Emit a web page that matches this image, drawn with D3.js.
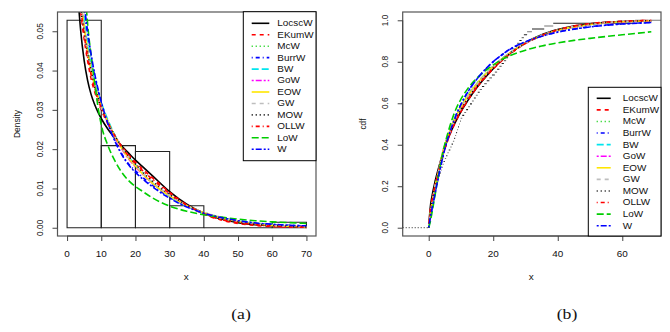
<!DOCTYPE html>
<html>
<head>
<meta charset="utf-8">
<script src="https://cdn.jsdelivr.net/npm/d3@7"></script>
<style>
  body { margin: 0; background: #ffffff; }
  text { font-family: "Liberation Sans", Arial, sans-serif; fill: #111; }
</style>
</head>
<body>
<div id="canvas"></div>
<script>
"use strict"

/* ---------- data ---------- */

/* legend names, in legend order */
let modelNames = ["LocscW", "EKumW", "McW", "BurrW", "BW", "GoW", "EOW", "GW", "MOW", "OLLW", "LoW", "W"];

/* histogram (panel a) */
let binEdges = [0, 10, 20, 30, 40, 50, 60, 70];
let binDensity = [0.0528, 0.0209, 0.0194, 0.0056, 0, 0, 0.0014];

/* fitted densities (panel a) */
let densX = [1, 2, 3, 4, 5, 6, 7, 8, 9, 10, 12, 14, 16, 18, 20, 22, 25, 30, 35, 40, 45, 50, 55, 60, 65, 70];
let densLocscW = [0.14, 0.085, 0.062, 0.050, 0.0425, 0.0375, 0.034, 0.0315, 0.0295, 0.0278, 0.0250, 0.0228, 0.0208, 0.0190, 0.0172, 0.0156, 0.0132, 0.0092, 0.0060, 0.0037, 0.0022, 0.0013, 0.0008, 0.0005, 0.0003, 0.0002];
let densEKumW = [0.13, 0.080, 0.064, 0.055, 0.048, 0.0425, 0.038, 0.0348, 0.0322, 0.0300, 0.0263, 0.0233, 0.0207, 0.0186, 0.0167, 0.0150, 0.0127, 0.0090, 0.0058, 0.0035, 0.0020, 0.0011, 0.0006, 0.0003, 0.0002, 0.0001];
let densMcW = [0.12, 0.086, 0.069, 0.059, 0.052, 0.0455, 0.0405, 0.0368, 0.0337, 0.0312, 0.0270, 0.0233, 0.0203, 0.0178, 0.0158, 0.0139, 0.0114, 0.0081, 0.0057, 0.0039, 0.0027, 0.0018, 0.0012, 0.0008, 0.0006, 0.0004];
let densBurrW = [0.15, 0.100, 0.078, 0.065, 0.056, 0.049, 0.0435, 0.039, 0.035, 0.0318, 0.0265, 0.0222, 0.0188, 0.0162, 0.0145, 0.0129, 0.0108, 0.0078, 0.0055, 0.0038, 0.0026, 0.0018, 0.0012, 0.0008, 0.0006, 0.0005];
let densBW = [0.12, 0.088, 0.070, 0.060, 0.053, 0.0465, 0.0412, 0.0372, 0.0342, 0.0318, 0.0273, 0.0235, 0.0204, 0.0180, 0.0160, 0.0140, 0.0114, 0.0080, 0.0055, 0.0037, 0.0025, 0.0017, 0.0011, 0.0008, 0.0005, 0.0003];
let densGoW = [0.12, 0.085, 0.068, 0.058, 0.051, 0.045, 0.0402, 0.0363, 0.0333, 0.0308, 0.0265, 0.0230, 0.0200, 0.0175, 0.0155, 0.0137, 0.0113, 0.0082, 0.0057, 0.0038, 0.0026, 0.0017, 0.0011, 0.0007, 0.0005, 0.0003];
let densEOW = [0.12, 0.085, 0.068, 0.058, 0.051, 0.045, 0.040, 0.0365, 0.0335, 0.0310, 0.0268, 0.0232, 0.0202, 0.0177, 0.0157, 0.0138, 0.0113, 0.0081, 0.0057, 0.0038, 0.0025, 0.0016, 0.0010, 0.0006, 0.0004, 0.0002];
let densGW = [0.12, 0.083, 0.067, 0.057, 0.0505, 0.0447, 0.040, 0.0362, 0.0332, 0.0305, 0.0265, 0.0232, 0.0204, 0.0180, 0.0160, 0.0141, 0.0116, 0.0083, 0.0057, 0.0037, 0.0024, 0.0016, 0.0010, 0.0006, 0.0004, 0.0002];
let densMOW = [0.12, 0.082, 0.066, 0.056, 0.050, 0.0445, 0.040, 0.0362, 0.0332, 0.0305, 0.0266, 0.0234, 0.0206, 0.0182, 0.0162, 0.0143, 0.0118, 0.0085, 0.0058, 0.0037, 0.0023, 0.0015, 0.0009, 0.0006, 0.0004, 0.0002];
let densOLLW = [0.13, 0.082, 0.065, 0.056, 0.049, 0.0435, 0.039, 0.0355, 0.0328, 0.0305, 0.0266, 0.0234, 0.0206, 0.0183, 0.0163, 0.0146, 0.0123, 0.0087, 0.0058, 0.0036, 0.0021, 0.0013, 0.0008, 0.0004, 0.0002, 0.00015];
let densLoW = [0.30, 0.20, 0.13, 0.09, 0.065, 0.052, 0.044, 0.0375, 0.031, 0.0262, 0.0208, 0.0170, 0.0141, 0.0120, 0.0105, 0.0093, 0.0076, 0.0055, 0.0042, 0.0033, 0.0027, 0.0022, 0.0018, 0.0015, 0.0013, 0.0011];
let densW = [0.15, 0.100, 0.079, 0.066, 0.057, 0.050, 0.0443, 0.0395, 0.0355, 0.0320, 0.0264, 0.0220, 0.0186, 0.0160, 0.0141, 0.0125, 0.0104, 0.0075, 0.0053, 0.0037, 0.0026, 0.0018, 0.0012, 0.0009, 0.0006, 0.0005];

/* fitted cdfs (panel b) */
let cdfX = [0, 0.5, 1, 2, 3, 4.5, 6, 8, 10, 12, 15, 18, 20, 22, 25, 30, 35, 40, 45, 50, 55, 60, 65, 69];
let cdfLocscW = [0, 0.10, 0.15, 0.225, 0.285, 0.365, 0.43, 0.50, 0.56, 0.61, 0.677, 0.733, 0.767, 0.798, 0.838, 0.892, 0.930, 0.955, 0.972, 0.983, 0.990, 0.994, 0.997, 0.998];
let cdfEKumW = [0, 0.08, 0.125, 0.20, 0.26, 0.355, 0.425, 0.50, 0.56, 0.612, 0.677, 0.733, 0.765, 0.795, 0.835, 0.888, 0.926, 0.953, 0.971, 0.983, 0.990, 0.995, 0.998, 0.999];
let cdfMcW = [0, 0.07, 0.115, 0.20, 0.27, 0.375, 0.445, 0.525, 0.585, 0.635, 0.697, 0.748, 0.778, 0.805, 0.840, 0.890, 0.925, 0.950, 0.966, 0.978, 0.986, 0.991, 0.994, 0.996];
let cdfBurrW = [0, 0.05, 0.09, 0.17, 0.245, 0.35, 0.435, 0.525, 0.595, 0.652, 0.718, 0.770, 0.800, 0.825, 0.858, 0.895, 0.923, 0.944, 0.958, 0.969, 0.977, 0.983, 0.987, 0.990];
let cdfBW = [0, 0.07, 0.115, 0.195, 0.265, 0.37, 0.442, 0.522, 0.583, 0.634, 0.697, 0.749, 0.779, 0.807, 0.842, 0.892, 0.927, 0.951, 0.967, 0.979, 0.987, 0.992, 0.995, 0.997];
let cdfGoW = [0, 0.07, 0.12, 0.20, 0.27, 0.372, 0.442, 0.520, 0.580, 0.630, 0.694, 0.746, 0.776, 0.804, 0.840, 0.890, 0.925, 0.950, 0.967, 0.979, 0.987, 0.992, 0.995, 0.997];
let cdfEOW = [0, 0.07, 0.115, 0.20, 0.268, 0.372, 0.442, 0.522, 0.582, 0.632, 0.695, 0.747, 0.777, 0.805, 0.841, 0.891, 0.927, 0.952, 0.968, 0.980, 0.988, 0.993, 0.996, 0.998];
let cdfGW = [0, 0.075, 0.12, 0.20, 0.265, 0.365, 0.435, 0.515, 0.575, 0.626, 0.690, 0.744, 0.775, 0.803, 0.840, 0.891, 0.928, 0.953, 0.970, 0.981, 0.989, 0.994, 0.997, 0.998];
let cdfMOW = [0, 0.08, 0.125, 0.205, 0.27, 0.365, 0.432, 0.51, 0.57, 0.62, 0.685, 0.740, 0.772, 0.801, 0.838, 0.890, 0.928, 0.954, 0.971, 0.982, 0.990, 0.994, 0.997, 0.998];
let cdfOLLW = [0, 0.085, 0.13, 0.205, 0.265, 0.358, 0.427, 0.503, 0.563, 0.615, 0.680, 0.736, 0.768, 0.798, 0.837, 0.889, 0.927, 0.954, 0.972, 0.984, 0.991, 0.995, 0.998, 0.999];
let cdfLoW = [0, 0.03, 0.07, 0.16, 0.25, 0.37, 0.46, 0.555, 0.62, 0.668, 0.722, 0.762, 0.785, 0.805, 0.828, 0.856, 0.876, 0.891, 0.903, 0.913, 0.922, 0.930, 0.938, 0.945];
let cdfW = [0, 0.05, 0.09, 0.168, 0.243, 0.348, 0.433, 0.523, 0.594, 0.651, 0.718, 0.771, 0.801, 0.826, 0.859, 0.896, 0.923, 0.943, 0.957, 0.968, 0.976, 0.982, 0.986, 0.989];

/* sorted sample behind the empirical cdf steps (panel b) */
let sampleX = [0.1, 0.2, 0.3, 0.4, 0.5, 0.7, 0.8, 1.0, 1.2, 1.4, 1.6, 1.8, 2.0, 2.3, 2.5, 2.8, 3.0, 3.2, 3.5, 3.8,
  4.0, 4.3, 4.6, 5.0, 5.4, 5.8, 6.2, 6.7, 7.1, 7.5, 7.9, 8.2, 8.5, 8.8, 9.1, 9.4, 9.7, 9.9,
  10.4, 11.0, 11.6, 12.2, 12.8, 13.4, 14.0, 14.6, 15.2, 15.8, 16.5, 17.2, 18.0, 18.8, 19.6,
  20.5, 21.2, 21.9, 22.6, 23.3, 24.0, 24.6, 25.3, 26.0, 26.7, 27.4, 28.1, 28.8, 29.5,
  30.5, 32.0, 35.8, 38.6, 64.0];

/* ticks */
let xTicksA = [0, 10, 20, 30, 40, 50, 60, 70];
let yTicksA = [0, 0.01, 0.02, 0.03, 0.04, 0.05];
let xTicksB = [0, 20, 40, 60];
let yTicksB = [0, 0.2, 0.4, 0.6, 0.8, 1.0];

/* line styles, R palette 1..8 cycling, lty 1..6 cycling */
let lineColors = ["#000000", "#ff0000", "#00cd00", "#0000ff", "#00e5ee", "#ff00ff", "#ffe600", "#bebebe", "#000000", "#ff0000", "#00cd00", "#0000ff"];
let lineDashes = [null, "4,4", "1,3", "1,3,4,3", "7,3", "2,2,6,2", null, "4,4", "1,3", "1,3,4,3", "7,3", "2,2,6,2"];

let densSeries = [densLocscW, densEKumW, densMcW, densBurrW, densBW, densGoW, densEOW, densGW, densMOW, densOLLW, densLoW, densW];
let cdfSeries = [cdfLocscW, cdfEKumW, cdfMcW, cdfBurrW, cdfBW, cdfGoW, cdfEOW, cdfGW, cdfMOW, cdfOLLW, cdfLoW, cdfW];

/* ---------- drawing ---------- */

let drawing = d3.select("#canvas")
    .append("svg")
    .attr("width", 670)
    .attr("height", 332);

let stretch = 1.18;   /* the source figure is a little wider than tall */
let fontSize = 8.4;

/* put text with the horizontal stretch of the source picture */
function stretchedText(parent, x, y, str, rotate, size, family) {
    return parent.append("text")
        .attr("transform", "translate(" + x + "," + y + ") scale(" + stretch + ",1)" + (rotate ? " rotate(-90)" : ""))
        .attr("text-anchor", "middle")
        .attr("dy", "0.35em")
        .style("font-size", (size || fontSize) + "px")
        .style("font-family", family || null)
        .text(str);
}

function styleAxis(g, rotateLabels) {
    g.select(".domain").attr("stroke", "#444");
    g.selectAll(".tick line").attr("stroke", "#444");
    g.selectAll(".tick text").remove();
}

function drawPanel(opts) {
    let xs = opts.x, ys = opts.y;
    let panel = drawing.append("g");

    let clipId = "clip" + opts.id;
    panel.append("clipPath").attr("id", clipId)
        .append("rect")
        .attr("x", xs.range()[0]).attr("y", ys.range()[1])
        .attr("width", xs.range()[1] - xs.range()[0])
        .attr("height", ys.range()[0] - ys.range()[1]);

    let inner = panel.append("g").attr("clip-path", "url(#" + clipId + ")");
    opts.under(inner);

    let line = d3.line()
        .x(d => xs(d[0]))
        .y(d => ys(d[1]))
        .curve(d3.curveMonotoneX);

    /* fitted curves */
    opts.series.forEach(function (vals, i) {
        inner.append("path")
            .datum(opts.grid.map((gx, j) => [gx, vals[j]]))
            .attr("d", line)
            .attr("fill", "none")
            .attr("stroke", lineColors[i])
            .attr("stroke-width", 1.6)
            .attr("stroke-dasharray", lineDashes[i]);
    });

    /* box */
    panel.append("rect")
        .attr("x", xs.range()[0]).attr("y", ys.range()[1])
        .attr("width", xs.range()[1] - xs.range()[0])
        .attr("height", ys.range()[0] - ys.range()[1])
        .attr("fill", "none")
        .attr("stroke", "#555")
        .attr("stroke-width", 1.2);

    /* axes */
    let xAxis = panel.append("g")
        .attr("transform", "translate(0," + ys.range()[0] + ")")
        .call(d3.axisBottom(xs).tickValues(opts.xTicks).tickSize(5).tickSizeOuter(0));
    styleAxis(xAxis);
    xAxis.select(".domain").attr("d", "M" + xs(opts.xTicks[0]) + ",0H" + xs(opts.xTicks[opts.xTicks.length - 1]));
    opts.xTicks.forEach(t => stretchedText(panel, xs(t), ys.range()[0] + 18, d3.format(opts.xFmt)(t)));

    let yAxis = panel.append("g")
        .attr("transform", "translate(" + xs.range()[0] + ",0)")
        .call(d3.axisLeft(ys).tickValues(opts.yTicks).tickSize(5).tickSizeOuter(0));
    styleAxis(yAxis);
    yAxis.select(".domain").attr("d", "M0," + ys(opts.yTicks[0]) + "V" + ys(opts.yTicks[opts.yTicks.length - 1]));
    opts.yTicks.forEach(t => stretchedText(panel, xs.range()[0] - 18, ys(t), d3.format(opts.yFmt)(t), true));

    /* axis titles */
    stretchedText(panel, (xs.range()[0] + xs.range()[1]) / 2 - 0.5, 277, "x");
    stretchedText(panel, xs.range()[0] - 40.6, (ys.range()[0] + ys.range()[1]) / 2, opts.yTitle, true);

    /* legend */
    let lg = opts.legend;
    panel.append("rect")
        .attr("x", lg.x).attr("y", lg.y)
        .attr("width", lg.w).attr("height", lg.h)
        .attr("fill", "#fff")
        .attr("stroke", "#000")
        .attr("stroke-width", 1);
    modelNames.forEach(function (name, i) {
        let yy = lg.y + lg.first + i * lg.step;
        panel.append("line")
            .attr("x1", lg.x + lg.l1).attr("x2", lg.x + lg.l2)
            .attr("y1", yy).attr("y2", yy)
            .attr("stroke", lineColors[i])
            .attr("stroke-width", 1.6)
            .attr("stroke-dasharray", lineDashes[i]);
        panel.append("text")
            .attr("transform", "translate(" + (lg.x + lg.tx) + "," + yy + ") scale(" + stretch + ",1)")
            .attr("dy", "0.35em")
            .style("font-size", fontSize + "px")
            .text(name);
    });

    stretchedText(panel, opts.captionX, 314, opts.caption, false, 15, "'Liberation Serif', 'Times New Roman', serif");
}

/* panel (a): histogram with fitted densities */
let xA = d3.scaleLinear().domain([-2.8, 72.8]).range([57.5, 316]);
let yA = d3.scaleLinear().domain([-0.0021, 0.0549]).range([236, 12]);

drawPanel({
    id: "A", x: xA, y: yA,
    grid: densX, series: densSeries,
    xTicks: xTicksA, yTicks: yTicksA, xFmt: "d", yFmt: ".2f",
    yTitle: "Density",
    legend: { x: 243.3, y: 11.7, w: 72.7, h: 149, first: 11.6, step: 11.45, l1: 8.4, l2: 26, tx: 34 },
    caption: "(a)", captionX: 241,
    under: function (g) {
        binDensity.forEach(function (d, i) {
            let x0 = xA(binEdges[i]), x1 = xA(binEdges[i + 1]);
            g.append("path")
                .attr("d", "M" + x0 + "," + yA(0) + "V" + yA(d) + "H" + x1 + "V" + yA(0) + "Z")
                .attr("fill", "none")
                .attr("stroke", "#222")
                .attr("stroke-width", 1.1);
        });
    }
});

/* panel (b): empirical cdf with fitted cdfs */
let xB = d3.scaleLinear().domain([-8.06, 72]).range([402.7, 661]);
let yB = d3.scaleLinear().domain([-0.04, 1.04]).range([236, 12]);

drawPanel({
    id: "B", x: xB, y: yB,
    grid: cdfX, series: cdfSeries,
    xTicks: xTicksB, yTicks: yTicksB, xFmt: "d", yFmt: ".1f",
    yTitle: "cdf",
    legend: { x: 588.3, y: 87.3, w: 72.7, h: 148.7, first: 11, step: 11.58, l1: 8.4, l2: 22.4, tx: 34.4 },
    caption: "(b)", captionX: 567,
    under: function (g) {
        let n = sampleX.length;
        /* left flat part at 0 */
        g.append("line")
            .attr("x1", xB.range()[0]).attr("x2", xB(sampleX[0]))
            .attr("y1", yB(0)).attr("y2", yB(0))
            .attr("stroke", "#222").attr("stroke-width", 1)
            .attr("stroke-dasharray", "1,2");
        sampleX.forEach(function (v, i) {
            let next = i + 1 < n ? sampleX[i + 1] : xB.domain()[1];
            g.append("line")
                .attr("x1", xB(v)).attr("x2", xB(next))
                .attr("y1", yB((i + 1) / n)).attr("y2", yB((i + 1) / n))
                .attr("stroke", i % 2 ? "#777" : "#222")
                .attr("stroke-width", 1.1);
        });
    }
});
</script>
</body>
</html>
